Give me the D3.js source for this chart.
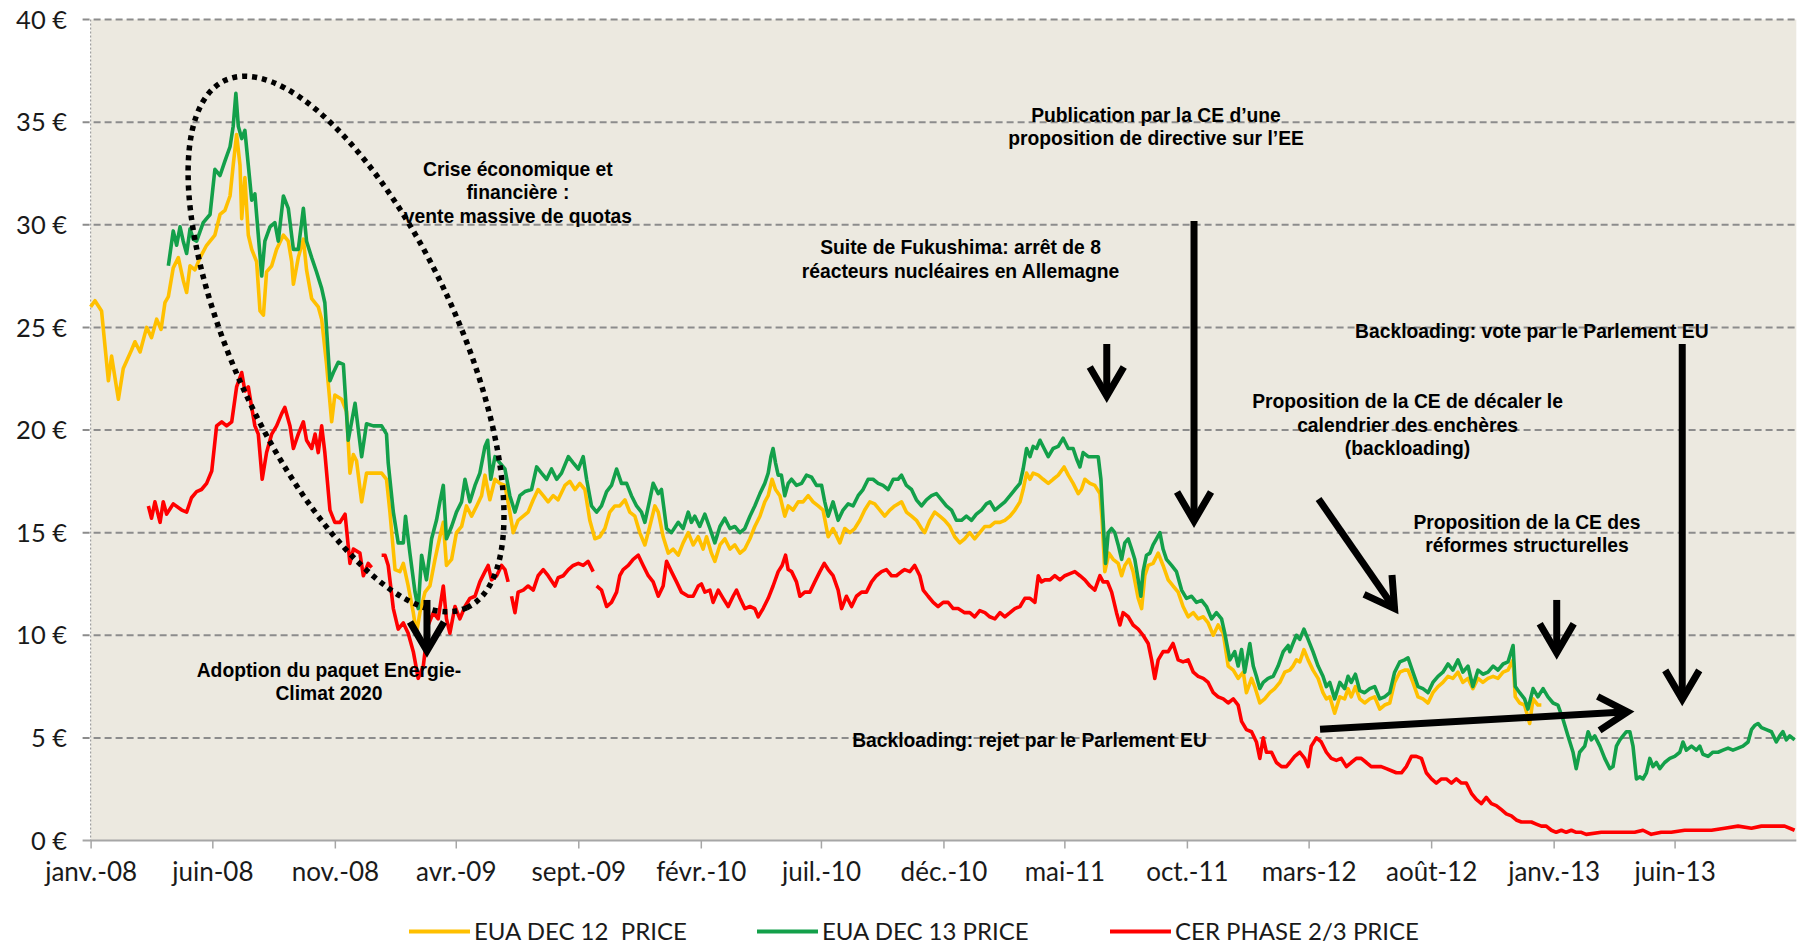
<!DOCTYPE html>
<html>
<head>
<meta charset="utf-8">
<script src="https://cdn.jsdelivr.net/npm/d3@7"></script>
<style>
  html, body { margin: 0; padding: 0; background: #fff; }
  svg { display: block; }
  .axis-label { font-family: Lato, "Liberation Sans", sans-serif; fill: #1a1a1a; }
  .note { font-family: "Liberation Sans", Arial, sans-serif; font-weight: bold; font-size: 19.3px; fill: #000; }
</style>
</head>
<body>
<svg id="chart"></svg>
<script>
// months since janv.-08, price in euros (null = gap in the series)
const eua12Data = [
  [0,26.0],[0.18,26.3],[0.45,25.8],[0.73,22.4],[0.86,23.6],[1.14,21.5],[1.34,23.0],[1.68,23.9],[1.82,24.3],[2.03,23.8],
  [2.30,25.0],[2.50,24.5],[2.71,25.4],[2.89,24.9],[3.05,26.2],[3.19,26.5],[3.39,27.9],[3.60,28.4],[3.80,27.3],[3.94,26.7],
  [4.08,28.0],[4.28,27.8],[4.49,28.4],[4.76,29.0],[5.10,29.5],[5.31,30.5],[5.51,30.7],[5.72,31.4],[5.85,32.9],[5.99,34.4],
  [6.13,32.9],[6.20,30.3],[6.33,32.3],[6.47,29.5],[6.61,28.8],[6.81,28.2],[6.95,25.8],[7.09,25.6],[7.22,27.7],[7.43,28.0],
  [7.63,28.8],[7.91,29.5],[8.11,29.2],[8.25,28.2],[8.32,27.1],[8.52,28.4],[8.73,29.3],[8.86,27.8],[9.07,26.4],[9.34,26.0],
  [9.48,25.4],[9.68,23.2],[9.89,20.4],[10.02,21.7],[10.30,21.5],[10.50,20.9],[10.64,17.9],[10.78,18.8],[10.91,18.5],[11.12,16.5],
  [11.32,17.9],[11.94,17.9],[12.14,17.6],[12.28,16.0],[12.49,13.2],[12.69,13.1],[12.83,13.5],[13.03,12.4],[13.24,11.1],[13.37,10.1],
  [13.51,11.1],[13.72,12.1],[13.92,12.4],[14.13,13.7],[14.33,14.8],[14.47,15.5],[14.60,13.4],[14.81,13.7],[15.01,15.0],[15.22,15.3],
  [15.42,16.3],[15.63,15.8],[15.84,16.3],[16.04,16.8],[16.18,17.8],[16.38,16.6],[16.59,17.6],[16.79,17.4],[17.00,17.3],[17.20,16.0],
  [17.34,15.0],[17.54,15.6],[17.75,15.8],[17.95,16.0],[18.16,16.6],[18.36,17.1],[18.57,16.8],[18.77,16.5],[18.98,16.8],[19.18,16.6],
  [19.46,17.3],[19.66,17.5],[19.87,17.1],[20.07,17.4],[20.28,17.1],[20.48,15.6],[20.69,14.7],[20.89,14.8],[21.10,15.2],[21.30,16.0],
  [21.51,16.3],[21.71,16.3],[21.92,16.6],[22.12,16.0],[22.33,15.8],[22.53,15.0],[22.74,14.4],[22.94,15.3],[23.15,16.3],[23.29,16.0],
  [23.49,14.8],[23.70,14.0],[23.90,14.2],[24.11,13.9],[24.31,14.5],[24.52,15.0],[24.72,14.4],[24.93,14.8],[25.13,14.2],[25.27,14.8],
  [25.47,14.0],[25.61,13.6],[25.82,14.4],[26.02,14.7],[26.23,14.2],[26.43,14.4],[26.64,14.0],[26.84,14.2],[27.05,14.7],[27.25,15.3],
  [27.46,15.8],[27.66,16.5],[27.80,16.8],[27.96,17.6],[28.10,17.1],[28.28,16.8],[28.48,15.8],[28.62,16.3],[28.82,16.1],[29.03,16.5],
  [29.23,16.5],[29.44,16.8],[29.64,16.5],[29.85,16.3],[30.05,16.1],[30.26,14.8],[30.46,15.2],[30.74,14.5],[30.94,15.2],[31.15,15.0],
  [31.35,15.2],[31.56,15.6],[31.76,16.1],[31.97,16.5],[32.17,16.4],[32.38,16.1],[32.58,15.8],[32.79,16.1],[32.99,16.3],[33.27,16.5],
  [33.47,16.0],[33.68,15.8],[33.88,15.6],[34.09,15.2],[34.22,15.0],[34.43,15.6],[34.63,16.0],[34.84,15.8],[35.04,15.6],[35.25,15.3],
  [35.45,14.8],[35.66,14.5],[35.86,14.7],[36.07,15.0],[36.27,14.7],[36.48,15.0],[36.69,15.3],[36.90,15.3],[37.10,15.5],[37.31,15.5],
  [37.51,15.6],[37.72,15.8],[37.92,16.1],[38.13,16.5],[38.26,17.1],[38.40,17.9],[38.54,17.6],[38.67,17.9],[38.88,17.8],[39.08,17.6],
  [39.29,17.4],[39.49,17.6],[39.70,17.8],[39.94,18.2],[40.11,17.8],[40.31,17.4],[40.52,16.9],[40.65,17.1],[40.79,17.6],[41.00,17.4],
  [41.20,17.3],[41.41,16.9],[41.50,15.6],[41.61,13.1],[41.78,14.0],[41.95,13.7],[42.16,13.5],[42.30,12.9],[42.43,13.4],[42.60,13.7],
  [42.77,13.1],[42.98,11.8],[43.12,11.3],[43.25,12.9],[43.39,13.4],[43.59,13.5],[43.80,14.0],[44.00,13.4],[44.21,12.7],[44.41,12.4],
  [44.62,12.1],[44.82,11.4],[45.03,10.9],[45.24,11.1],[45.44,10.8],[45.65,10.9],[45.85,10.6],[46.06,10.0],[46.26,10.5],[46.47,10.1],
  [46.67,8.5],[46.88,8.3],[47.08,7.9],[47.29,8.2],[47.42,7.2],[47.63,7.9],[47.76,7.5],[47.97,6.7],[48.17,6.9],[48.38,7.2],
  [48.58,7.4],[48.79,7.7],[48.99,8.2],[49.20,8.3],[49.33,8.5],[49.47,8.8],[49.61,8.7],[49.78,9.3],[49.95,8.8],[50.15,8.3],
  [50.36,7.9],[50.56,7.2],[50.70,6.9],[50.84,7.0],[51.04,6.2],[51.25,7.0],[51.45,6.9],[51.59,7.4],[51.72,7.0],[51.89,7.5],
  [52.07,6.9],[52.27,6.7],[52.48,6.9],[52.68,7.0],[52.89,6.4],[53.09,6.6],[53.30,6.7],[53.50,7.7],[53.71,8.2],[53.91,8.3],
  [54.05,8.3],[54.25,7.7],[54.46,7.0],[54.66,6.9],[54.87,6.7],[55.07,7.2],[55.28,7.5],[55.48,7.7],[55.69,8.0],[55.89,7.9],
  [56.10,8.2],[56.30,7.7],[56.51,7.9],[56.71,7.4],[56.92,7.9],[57.12,7.7],[57.33,7.9],[57.54,8.0],[57.74,7.9],[57.95,8.2],
  [58.15,8.3],[58.36,8.8],[58.45,7.0],[58.63,6.7],[58.83,6.6],[59.04,5.7],[59.18,6.9],[59.38,6.6],[59.52,6.6]
];

const eua13Data = [
  [3.19,28.0],[3.39,29.7],[3.53,29.0],[3.67,29.9],[3.80,29.2],[3.94,28.6],[4.08,29.8],[4.21,29.3],[4.35,29.2],[4.62,30.1],
  [4.90,30.5],[5.10,32.7],[5.31,32.4],[5.51,33.1],[5.72,33.8],[5.85,34.8],[5.96,36.4],[6.06,34.8],[6.20,34.2],[6.33,34.6],
  [6.47,32.9],[6.61,31.2],[6.74,31.5],[6.88,29.5],[7.02,27.5],[7.15,29.2],[7.36,29.9],[7.56,30.1],[7.70,29.2],[7.91,31.4],
  [8.11,30.8],[8.32,28.8],[8.52,28.8],[8.73,30.8],[8.86,29.2],[9.07,28.4],[9.27,27.7],[9.48,26.9],[9.61,26.2],[9.82,22.4],
  [9.96,22.8],[10.16,23.3],[10.37,23.2],[10.57,19.5],[10.85,21.3],[11.12,18.7],[11.32,20.3],[11.60,20.2],[11.94,20.2],[12.14,19.8],
  [12.21,18.4],[12.42,16.0],[12.62,14.5],[12.83,14.5],[12.92,15.8],[13.10,14.0],[13.31,12.1],[13.44,11.3],[13.58,13.9],[13.78,12.7],
  [13.99,14.7],[14.19,15.6],[14.33,16.5],[14.47,17.3],[14.60,14.7],[14.81,15.3],[15.01,16.0],[15.22,16.5],[15.36,17.6],[15.56,16.5],
  [15.77,17.3],[15.97,17.9],[16.18,19.2],[16.29,19.5],[16.42,17.6],[16.59,18.7],[16.79,18.4],[17.00,18.1],[17.20,16.8],[17.41,16.0],
  [17.61,16.8],[17.82,17.0],[18.09,17.1],[18.30,18.2],[18.50,17.9],[18.71,17.6],[18.91,18.1],[19.12,17.6],[19.32,17.9],[19.60,18.7],
  [19.80,18.4],[20.01,18.1],[20.21,18.7],[20.35,17.6],[20.55,16.3],[20.76,16.0],[20.96,16.3],[21.17,17.0],[21.37,17.3],[21.58,18.1],
  [21.78,17.4],[21.99,17.4],[22.19,16.8],[22.40,16.3],[22.60,16.0],[22.74,15.5],[22.94,16.6],[23.08,17.4],[23.29,16.9],[23.42,17.1],
  [23.63,15.2],[23.83,15.0],[24.11,15.5],[24.31,15.2],[24.52,16.0],[24.65,15.5],[24.79,15.8],[24.99,15.3],[25.20,15.9],[25.41,15.2],
  [25.61,14.5],[25.82,15.3],[26.02,15.7],[26.23,15.2],[26.43,15.3],[26.64,15.0],[26.84,15.2],[27.05,15.8],[27.25,16.3],[27.46,16.9],
  [27.66,17.4],[27.80,17.9],[27.91,18.7],[28.00,19.1],[28.10,18.4],[28.21,17.8],[28.34,17.8],[28.48,16.8],[28.62,17.4],[28.76,17.6],
  [28.96,17.3],[29.17,17.4],[29.37,17.8],[29.58,17.7],[29.78,17.3],[29.99,17.3],[30.12,16.5],[30.26,15.8],[30.46,16.5],[30.67,15.6],
  [30.87,16.1],[31.08,16.4],[31.28,16.3],[31.49,16.8],[31.69,17.1],[31.90,17.6],[32.10,17.6],[32.31,17.4],[32.51,17.3],[32.72,17.1],
  [32.93,17.6],[33.13,17.6],[33.27,17.8],[33.47,17.3],[33.68,17.1],[33.88,16.6],[34.09,16.3],[34.29,16.6],[34.50,16.8],[34.70,16.9],
  [34.91,16.6],[35.11,16.3],[35.32,16.1],[35.52,15.6],[35.73,15.6],[35.93,15.8],[36.14,15.6],[36.34,15.9],[36.55,16.1],[36.75,16.4],
  [36.90,16.5],[37.10,16.1],[37.31,16.3],[37.51,16.5],[37.72,16.8],[37.92,17.1],[38.13,17.4],[38.26,18.1],[38.40,19.1],[38.54,18.7],
  [38.67,19.2],[38.81,19.1],[38.95,19.5],[39.12,19.1],[39.29,18.7],[39.49,19.1],[39.70,19.2],[39.90,19.6],[40.11,19.1],[40.31,19.1],
  [40.45,18.6],[40.59,18.2],[40.72,18.9],[40.93,18.7],[41.13,18.7],[41.34,18.7],[41.45,17.6],[41.54,15.6],[41.64,13.5],[41.75,15.0],
  [41.89,15.2],[42.02,15.0],[42.16,14.4],[42.30,13.7],[42.43,14.5],[42.57,14.7],[42.71,14.2],[42.84,13.7],[42.98,12.7],[43.09,11.9],
  [43.18,13.1],[43.32,13.9],[43.46,14.0],[43.59,14.4],[43.73,14.7],[43.87,15.0],[44.00,14.2],[44.14,13.7],[44.35,13.4],[44.55,13.1],
  [44.76,12.2],[44.96,11.8],[45.17,11.9],[45.37,11.6],[45.58,11.7],[45.78,11.4],[45.99,10.8],[46.19,11.1],[46.40,10.8],[46.53,10.1],
  [46.74,8.8],[46.94,9.2],[47.08,8.5],[47.22,9.3],[47.35,8.2],[47.56,9.6],[47.70,8.5],[47.83,8.0],[47.97,7.4],[48.11,7.7],
  [48.31,7.9],[48.52,8.0],[48.72,8.5],[48.93,9.2],[49.13,9.5],[49.20,9.2],[49.33,9.6],[49.47,10.0],[49.61,9.8],[49.78,10.3],
  [49.95,9.8],[50.15,9.2],[50.36,8.5],[50.56,8.0],[50.70,7.5],[50.84,7.7],[51.04,6.9],[51.25,7.7],[51.45,7.4],[51.59,8.0],
  [51.72,7.7],[51.89,8.1],[52.07,7.3],[52.27,7.2],[52.48,7.4],[52.68,7.5],[52.89,6.9],[53.09,7.0],[53.30,7.2],[53.50,8.2],
  [53.71,8.7],[53.91,8.8],[54.05,8.9],[54.25,8.2],[54.46,7.5],[54.66,7.4],[54.87,7.2],[55.07,7.7],[55.28,8.0],[55.48,8.2],
  [55.69,8.6],[55.89,8.3],[56.10,8.8],[56.30,8.2],[56.51,8.5],[56.71,7.5],[56.92,8.3],[57.12,8.1],[57.33,8.2],[57.54,8.5],
  [57.74,8.3],[57.95,8.6],[58.15,8.7],[58.36,9.5],[58.45,7.5],[58.63,7.2],[58.83,6.9],[58.97,6.4],[59.18,7.4],[59.38,7.0],
  [59.59,7.4],[59.79,7.0],[60.00,6.7],[60.20,6.6],[60.41,5.9],[60.61,5.1],[60.82,4.3],[60.95,3.5],[61.09,4.3],[61.30,4.6],
  [61.44,5.3],[61.57,4.9],[61.71,5.1],[61.92,4.6],[62.12,4.0],[62.33,3.5],[62.46,3.6],[62.60,4.6],[62.74,4.9],[62.87,5.1],
  [63.01,5.3],[63.15,5.3],[63.28,4.6],[63.42,3.0],[63.56,3.1],[63.69,3.0],[63.83,3.3],[63.97,4.0],[64.10,3.6],[64.24,3.8],
  [64.38,3.5],[64.58,3.8],[64.79,4.0],[64.99,4.1],[65.20,4.3],[65.33,4.8],[65.47,4.4],[65.68,4.6],[65.88,4.4],[66.02,4.6],
  [66.15,4.2],[66.36,4.1],[66.56,4.3],[66.77,4.3],[66.97,4.4],[67.18,4.5],[67.38,4.4],[67.59,4.5],[67.79,4.6],[68.00,4.8],
  [68.14,5.4],[68.27,5.6],[68.41,5.7],[68.55,5.5],[68.75,5.4],[68.96,5.3],[69.16,4.8],[69.30,5.1],[69.43,5.3],[69.57,4.9],
  [69.71,5.1],[69.91,4.9]
];

const cerData = [
  [2.37,16.3],[2.50,15.7],[2.64,16.5],[2.85,15.5],[2.98,16.5],[3.12,15.9],[3.39,16.4],[3.74,16.1],[3.94,16.0],[4.14,16.7],
  [4.35,17.0],[4.55,17.1],[4.76,17.4],[4.97,18.0],[5.17,20.2],[5.38,20.4],[5.58,20.2],[5.79,20.4],[5.99,22.1],[6.20,22.8],
  [6.33,21.9],[6.47,22.1],[6.61,21.1],[6.74,20.2],[6.88,19.8],[7.04,17.6],[7.22,18.9],[7.43,19.8],[7.63,20.2],[7.84,20.8],
  [7.97,21.1],[8.18,20.2],[8.32,19.1],[8.52,19.8],[8.73,20.4],[8.86,19.5],[9.07,19.1],[9.21,19.8],[9.34,18.9],[9.48,20.2],
  [9.61,18.9],[9.82,16.1],[10.02,15.5],[10.23,15.5],[10.44,15.9],[10.64,13.5],[10.78,14.2],[11.05,14.0],[11.19,12.9],[11.39,13.5],
  [11.53,13.3],[11.75,null],[11.94,13.9],[12.08,13.9],[12.21,13.4],[12.42,11.3],[12.62,10.3],[12.83,10.6],[13.03,10.1],[13.24,9.2],
  [13.44,7.9],[13.65,8.5],[13.85,10.5],[14.06,11.1],[14.26,10.8],[14.47,12.4],[14.60,10.8],[14.74,10.1],[14.95,11.4],[15.15,10.8],
  [15.36,11.4],[15.56,11.8],[15.77,11.9],[15.97,12.6],[16.18,13.1],[16.31,13.4],[16.45,12.7],[16.66,12.9],[16.86,13.4],[17.00,13.2],
  [17.13,12.6],[17.20,null],[17.27,11.9],[17.41,11.1],[17.54,12.1],[17.75,12.2],[17.95,12.4],[18.16,12.2],[18.36,12.9],[18.57,13.2],
  [18.77,12.9],[19.05,12.4],[19.18,12.8],[19.39,12.9],[19.60,13.2],[19.80,13.4],[20.01,13.5],[20.21,13.4],[20.41,13.6],[20.62,13.1],
  [20.69,null],[20.76,12.4],[20.96,12.2],[21.17,11.4],[21.37,11.6],[21.58,12.1],[21.71,12.9],[21.85,13.2],[22.06,13.4],[22.26,13.7],
  [22.47,13.9],[22.67,13.4],[22.88,12.9],[23.08,12.6],[23.29,11.9],[23.49,12.4],[23.63,13.6],[23.83,13.1],[24.04,12.6],[24.24,12.1],
  [24.52,11.9],[24.72,11.9],[24.93,12.4],[25.06,12.5],[25.20,12.1],[25.41,12.2],[25.54,11.6],[25.75,12.2],[25.95,11.8],[26.16,11.4],
  [26.36,11.9],[26.50,12.2],[26.64,11.8],[26.84,11.3],[27.05,11.4],[27.25,11.3],[27.39,10.9],[27.59,11.3],[27.80,11.8],[28.00,12.4],
  [28.21,13.1],[28.37,13.4],[28.51,13.9],[28.62,13.2],[28.76,13.1],[28.96,12.6],[29.10,11.9],[29.30,12.1],[29.51,12.1],[29.71,12.6],
  [29.92,13.1],[30.10,13.5],[30.26,13.2],[30.46,12.9],[30.67,12.2],[30.81,11.3],[31.01,11.9],[31.22,11.4],[31.42,11.9],[31.63,12.1],
  [31.83,12.1],[32.04,12.6],[32.24,12.9],[32.45,13.1],[32.65,13.2],[32.86,12.9],[33.06,12.9],[33.27,13.1],[33.40,13.2],[33.61,13.1],
  [33.81,13.4],[34.02,12.9],[34.16,12.2],[34.36,11.9],[34.57,11.6],[34.77,11.4],[34.98,11.6],[35.18,11.6],[35.39,11.3],[35.59,11.3],
  [35.86,11.1],[36.07,11.1],[36.27,10.9],[36.48,11.2],[36.69,11.1],[36.89,10.9],[37.10,10.8],[37.31,11.1],[37.51,10.9],[37.72,11.1],
  [37.92,11.3],[38.13,11.4],[38.33,11.8],[38.54,11.8],[38.74,11.6],[38.88,12.9],[39.01,12.6],[39.15,12.7],[39.36,12.7],[39.56,12.9],
  [39.77,12.7],[39.97,12.9],[40.18,13.0],[40.38,13.1],[40.59,12.9],[40.79,12.7],[41.00,12.4],[41.20,12.2],[41.41,12.9],[41.54,12.6],
  [41.72,12.6],[41.89,12.1],[42.09,11.1],[42.23,10.5],[42.36,11.1],[42.57,10.9],[42.77,10.5],[42.98,10.3],[43.18,10.0],[43.39,9.6],
  [43.53,8.8],[43.66,7.9],[43.80,8.8],[44.00,9.2],[44.21,9.2],[44.41,9.6],[44.62,8.8],[44.82,8.7],[45.03,8.8],[45.24,8.2],
  [45.44,8.0],[45.65,7.9],[45.85,7.7],[46.06,7.2],[46.26,7.0],[46.47,6.9],[46.67,6.7],[46.88,6.9],[47.08,6.6],[47.22,5.8],
  [47.42,5.4],[47.63,5.3],[47.83,4.8],[47.97,4.0],[48.11,5.0],[48.24,4.3],[48.45,4.3],[48.65,3.8],[48.86,3.6],[49.06,3.6],
  [49.20,3.8],[49.40,4.1],[49.61,4.3],[49.81,4.0],[49.95,3.6],[50.08,4.6],[50.29,5.0],[50.49,4.8],[50.70,4.3],[50.90,4.0],
  [51.11,3.9],[51.31,4.0],[51.52,3.6],[51.72,3.8],[51.93,4.0],[52.13,4.0],[52.34,3.8],[52.54,3.6],[52.75,3.6],[52.95,3.6],
  [53.16,3.5],[53.37,3.4],[53.57,3.3],[53.78,3.3],[53.98,3.6],[54.19,4.1],[54.39,4.1],[54.60,4.0],[54.80,3.3],[55.01,3.0],
  [55.21,2.8],[55.42,3.0],[55.62,3.0],[55.83,2.8],[56.03,3.0],[56.24,2.8],[56.44,2.8],[56.65,2.3],[56.85,2.0],[57.06,1.8],
  [57.26,2.1],[57.47,1.8],[57.67,1.7],[57.88,1.5],[58.08,1.3],[58.29,1.2],[58.49,1.0],[58.70,0.9],[58.90,0.9],[59.11,0.9],
  [59.31,0.8],[59.52,0.7],[59.72,0.7],[59.93,0.5],[60.13,0.4],[60.34,0.5],[60.54,0.4],[60.75,0.5],[60.95,0.4],[61.16,0.4],
  [61.36,0.3],[61.98,0.4],[62.67,0.4],[63.35,0.4],[63.69,0.5],[64.03,0.3],[64.44,0.4],[64.85,0.4],[65.40,0.5],[65.95,0.5],
  [66.50,0.5],[67.04,0.6],[67.59,0.7],[68.14,0.6],[68.55,0.7],[69.09,0.7],[69.50,0.7],[69.91,0.5]
];

const seriesNames = ["EUA DEC 12  PRICE", "EUA DEC 13 PRICE", "CER PHASE 2/3 PRICE"];
const seriesColors = ["#FFC000", "#13A04A", "#FF0000"];

const yTicks = [0, 5, 10, 15, 20, 25, 30, 35, 40];
const xTickLabels = ["janv.-08", "juin-08", "nov.-08", "avr.-09", "sept.-09", "févr.-10", "juil.-10",
  "déc.-10", "mai-11", "oct.-11", "mars-12", "août-12", "janv.-13", "juin-13"];

// annotations, anchored in data space (months, euros)
const notes = [
  { m: 17.53, v: 32.38, lines: ["Crise économique et", "financière :", "vente massive de quotas"] },
  { m: 9.78, v: 7.97, lines: ["Adoption du paquet Energie-", "Climat 2020"] },
  { m: 43.71, v: 35.02, lines: ["Publication par la CE d\u2019une", "proposition de directive sur l\u2019EE"] },
  { m: 35.69, v: 28.56, lines: ["Suite de Fukushima: arrêt de 8", "réacteurs nucléaires en Allemagne"] },
  { m: 59.13, v: 24.48, lines: ["Backloading: vote par le Parlement EU"] },
  { m: 54.03, v: 21.05, lines: ["Proposition de la CE de décaler le", "calendrier des enchères", "(backloading)"] },
  { m: 58.93, v: 15.18, lines: ["Proposition de la CE des", "réformes structurelles"] },
  { m: 38.52, v: 4.56, lines: ["Backloading: rejet par le Parlement EU"] }
];

const arrows = [
  { from: [13.80, 11.72], to: [13.80, 9.04] },
  { from: [41.69, 24.19], to: [41.69, 21.46] },
  { from: [45.27, 30.18], to: [45.27, 15.37] },
  { from: [50.38, 16.64], to: [53.59, 11.14] },
  { from: [60.15, 11.72], to: [60.15, 8.95] },
  { from: [65.30, 24.19], to: [65.30, 6.68] },
  { from: [50.44, 5.42], to: [63.22, 6.28] }
];

const crisisEllipse = { m: 10.48, v: 24.19 };

const width = 1798, height = 944;
const plot = { left: 90.6, right: 1796.3, top: 19.5, bottom: 840.5 };

const t0 = new Date(2008, 0, 1);
const toDate = m => new Date(+t0 + m * 30.4375 * 864e5);

const x = d3.scaleTime()
  .domain([t0, new Date(2013, 9, 31)])
  .range([plot.left, plot.right]);

const y = d3.scaleLinear()
  .domain([0, 40])
  .range([plot.bottom, plot.top]);

const svg = d3.select("#chart")
  .attr("width", width)
  .attr("height", height);

// plot background
svg.append("rect")
  .attr("x", plot.left)
  .attr("y", plot.top)
  .attr("width", plot.right - plot.left)
  .attr("height", plot.bottom - plot.top)
  .attr("fill", "#ECE9E0");

// dashed gridlines
svg.selectAll(".grid")
  .data(yTicks.filter(d => d > 0))
  .join("line")
  .attr("class", "grid")
  .attr("x1", plot.left - 8)
  .attr("x2", plot.right)
  .attr("y1", d => y(d))
  .attr("y2", d => y(d))
  .attr("stroke", "#8c8c8c")
  .attr("stroke-width", 2)
  .attr("stroke-dasharray", "7 4");

// dotted left axis
svg.append("line")
  .attr("x1", plot.left)
  .attr("x2", plot.left)
  .attr("y1", plot.top)
  .attr("y2", plot.bottom)
  .attr("stroke", "#a0a0a0")
  .attr("stroke-width", 1.2)
  .attr("stroke-dasharray", "2 2");

// bottom axis
const xTickDates = xTickLabels.map((_, i) => new Date(2008, i * 5, 1));
const xAxis = d3.axisBottom(x)
  .tickValues(xTickDates)
  .tickSize(8)
  .tickSizeOuter(0)
  .tickFormat((d, i) => xTickLabels[i]);

const gx = svg.append("g")
  .attr("transform", `translate(0, ${plot.bottom})`)
  .call(xAxis);
gx.select(".domain")
  .attr("d", `M${plot.left - 8},0H${plot.right}`)
  .attr("stroke", "#a6a6a6")
  .attr("stroke-width", 2);
gx.selectAll(".tick line").attr("stroke", "#a6a6a6").attr("stroke-width", 1.5);
gx.selectAll(".tick text")
  .attr("class", "axis-label")
  .attr("y", 22)
  .attr("dy", "0.71em")
  .style("font-size", "26px");

// left tick labels
svg.selectAll(".ylab")
  .data(yTicks)
  .join("text")
  .attr("class", "axis-label ylab")
  .attr("x", 67)
  .attr("y", d => y(d))
  .attr("dy", "0.36em")
  .attr("text-anchor", "end")
  .style("font-size", "25.5px")
  .text(d => `${d}\u00a0€`);

// price lines
const line = d3.line()
  .defined(d => d[1] != null)
  .x(d => x(toDate(d[0])))
  .y(d => y(d[1]));

[eua12Data, eua13Data, cerData].forEach((data, i) => {
  svg.append("path")
    .datum(data)
    .attr("fill", "none")
    .attr("stroke", seriesColors[i])
    .attr("stroke-width", 3.6)
    .attr("stroke-linejoin", "round")
    .attr("d", line);
});

// dotted ellipse around the 2008 crisis
svg.append("ellipse")
  .attr("cx", 0)
  .attr("cy", 0)
  .attr("rx", 290)
  .attr("ry", 112)
  .attr("transform", `translate(${x(toDate(crisisEllipse.m))}, ${y(crisisEllipse.v)}) rotate(65.4)`)
  .attr("fill", "none")
  .attr("stroke", "#000")
  .attr("stroke-width", 5.5)
  .attr("stroke-dasharray", "5 5");

// arrows
const headLen = 33, headHalf = 17;
arrows.forEach(a => {
  const x1 = x(toDate(a.from[0])), y1 = y(a.from[1]);
  const x2 = x(toDate(a.to[0])), y2 = y(a.to[1]);
  const len = Math.hypot(x2 - x1, y2 - y1);
  const ux = (x2 - x1) / len, uy = (y2 - y1) / len;
  const bx = x2 - headLen * ux, by = y2 - headLen * uy;
  const g = svg.append("g").attr("stroke", "#000").attr("fill", "none").attr("stroke-width", 7);
  g.append("line")
    .attr("x1", x1).attr("y1", y1)
    .attr("x2", x2 - 4 * ux).attr("y2", y2 - 4 * uy);
  g.append("path")
    .attr("stroke-linejoin", "miter")
    .attr("d", `M${bx - headHalf * uy},${by + headHalf * ux}L${x2 - 4 * ux},${y2 - 4 * uy}L${bx + headHalf * uy},${by - headHalf * ux}`);
});

// annotation texts
notes.forEach(n => {
  const t = svg.append("text")
    .attr("class", "note")
    .attr("text-anchor", "middle")
    .attr("x", x(toDate(n.m)))
    .attr("y", y(n.v));
  n.lines.forEach((l, i) => {
    t.append("tspan")
      .attr("x", x(toDate(n.m)))
      .attr("dy", i === 0 ? 0 : 23.3)
      .text(l);
  });
});

// legend
const legendX = [409, 757, 1110];
seriesNames.forEach((name, i) => {
  svg.append("line")
    .attr("x1", legendX[i])
    .attr("x2", legendX[i] + 61)
    .attr("y1", 931.5)
    .attr("y2", 931.5)
    .attr("stroke", seriesColors[i])
    .attr("stroke-width", 4);
  svg.append("text")
    .attr("class", "axis-label")
    .attr("x", legendX[i] + 65)
    .attr("y", 940)
    .style("font-size", "24px")
    .style("white-space", "pre")
    .text(name);
});
</script>
</body>
</html>
